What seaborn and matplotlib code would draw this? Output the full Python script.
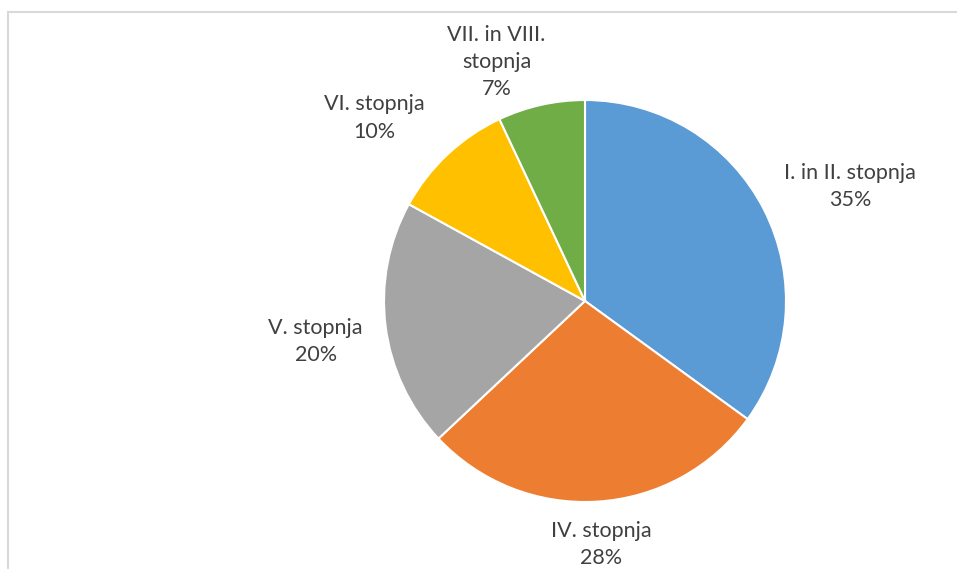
import matplotlib
matplotlib.use("Agg")
import matplotlib.pyplot as plt
import seaborn as sns
from matplotlib.patches import Rectangle

# Data
categories = ["I. in II. stopnja", "IV. stopnja", "V. stopnja", "VI. stopnja", "VII. in VIII.\nstopnja"]
shares = [35, 28, 20, 10, 7]
colors = ["#5B9BD5", "#ED7D31", "#A5A5A5", "#FFC000", "#70AD47"]

# label centres relative to pie centre (in radius units)
label_pos = [(1.32, 0.57), (0.08, -1.21), (-1.34, -0.20), (-1.05, 0.91), (-0.44, 1.19)]

sns.set_theme(style="white")
plt.rcParams['font.family'] = ['Lato', 'DejaVu Sans']

fig = plt.figure(figsize=(9.57, 5.69), dpi=100)
fig.patch.set_facecolor("white")

# chart area border
fig.patches.append(Rectangle((8 / 957, -0.1), 1.0, (569 - 12) / 569 + 0.1,
                             transform=fig.transFigure, fill=False,
                             edgecolor="#D9D9D9", linewidth=1.5, zorder=0))

ax = fig.add_axes([(585 - 201) / 957, (569 - 301 - 201) / 569, 402 / 957, 402 / 569])
ax.pie(shares, colors=sns.color_palette(colors), startangle=90, counterclock=False,
       radius=1, wedgeprops=dict(edgecolor="white", linewidth=1.5))
ax.set_xlim(-1, 1)
ax.set_ylim(-1, 1)
ax.set_aspect("auto")
ax.axis("off")

for name, val, (x, y) in zip(categories, shares, label_pos):
    ax.text(x, y, f"{name}\n{val}%", ha="center", va="center", fontsize=15.5,
            color="#404040", linespacing=1.45)

fig.savefig("out.png", dpi=100)
